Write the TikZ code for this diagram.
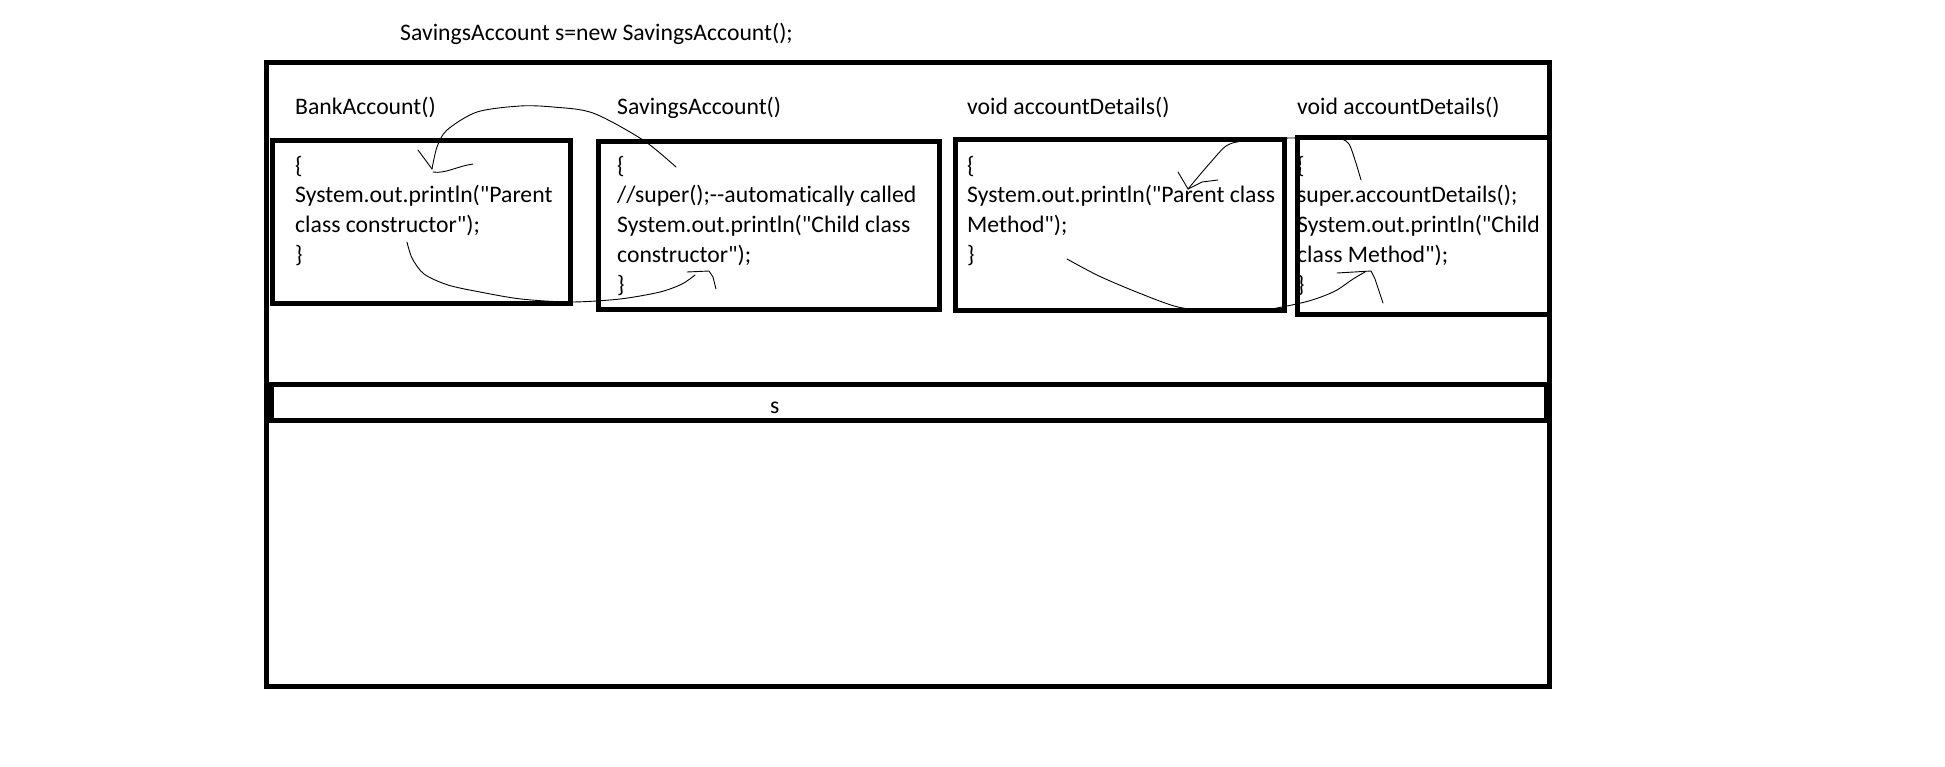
\documentclass[tikz,border=0pt]{standalone}
\usepackage{fontspec}
\setmainfont{Carlito}[Ligatures={TeXOff,CommonOff}]
\begin{document}
\begin{tikzpicture}[x=1pt,y=-1pt,
  frame/.style={draw=black,line width=5pt},
  txt/.style={anchor=base west,inner sep=0pt,font=\fontsize{23.7}{28}\selectfont},
  pen/.style={draw=black,line width=0.9pt,line cap=round,line join=round}]
\useasboundingbox (0,0) rectangle (1945,766);
% frames
\draw[frame] (266.5,62.5) rectangle (1549.5,686.5);
\draw[frame] (272.5,140.5) rectangle (570,303.5);
\draw[frame] (598,141) rectangle (939,309);
\draw[frame] (955,139) rectangle (1284,310);
\draw[frame] (1297,137) rectangle (1549.5,314);
\draw[frame] (271,384.5) rectangle (1546,420);
% title and labels
\node[txt] (title) at (400,40) {SavingsAccount s=new SavingsAccount();};
\node[txt] (lab1) at (295,114) {BankAccount()};
\node[txt] (lab2) at (617,114) {SavingsAccount()};
\node[txt] (lab3) at (967,114) {void accountDetails()};
\node[txt] (lab4) at (1297,114) {void accountDetails()};
% box 1
\node[txt] (b1a) at (295,173) {\{};
\node[txt] (b1b) at (295,202.8) {System.out.println("Parent};
\node[txt] (b1c) at (295,232.6) {class constructor");};
\node[txt] (b1d) at (295,262.4) {\}};
% box 2
\node[txt] (b2a) at (617,173) {\{};
\node[txt] (b2b) at (617,202.8) {//super();--automatically called};
\node[txt] (b2c) at (617,232.6) {System.out.println("Child class};
\node[txt] (b2d) at (617,262.4) {constructor");};
\node[txt] (b2e) at (617,292.2) {\}};
% box 3
\node[txt] (b3a) at (967,173) {\{};
\node[txt] (b3b) at (967,202.8) {System.out.println("Parent class};
\node[txt] (b3c) at (967,232.6) {Method");};
\node[txt] (b3d) at (967,262.4) {\}};
% box 4
\node[txt] (b4a) at (1297,173) {\{};
\node[txt] (b4b) at (1297,202.8) {super.accountDetails();};
\node[txt] (b4c) at (1297,232.6) {System.out.println("Child};
\node[txt] (b4d) at (1297,262.4) {class Method");};
\node[txt] (b4e) at (1297,292.2) {\}};
% s
\node[txt] (sv) at (770,413) {s};
% hand-drawn curves
\coordinate (aS) at (676,167);
\coordinate (aE) at (432,169);
\draw[pen] plot[smooth] coordinates {(aS) (643,140) (593,113) (553,107) (520,106) (477,112) (447,130) (437,147) (aE)};
\draw[pen] (418,150) -- (aE);
\draw[pen] (433,172) .. controls (445,174) and (458,166) .. (473,164);
\coordinate (bS) at (407,242);
\coordinate (bE) at (695,275);
\draw[pen] plot[smooth] coordinates {(bS) (412,258) (424,274) (448,285) (480,292) (521,299) (571,302) (620,299) (660,292) (682,284) (bE)};
\draw[pen] (687,272) -- (709,271) -- (713,277) -- (716,289);
\coordinate (cS) at (1361,180);
\coordinate (cE) at (1188,189);
\draw[pen] plot[smooth] coordinates {(cS) (1355,160) (1349,144) (1341,139) (1321,138) (1290,138) (1266,139) (1242,141) (1226,146) (1210,163) (1198,177) (cE)};
\draw[pen] (1178,172) -- (cE) -- (1202,182) -- (1218,180);
\coordinate (dS) at (1067,259);
\coordinate (dE) at (1365,272);
\draw[pen] plot[smooth] coordinates {(dS) (1099,276) (1139,293) (1178,307) (1218,312) (1258,311) (1282,307) (1305,302) (1321,297) (1337,290) (1353,279) (dE)};
\draw[pen] (1337,273) -- (1371,271) -- (1375,279) -- (1383,303);
\end{tikzpicture}
\end{document}
